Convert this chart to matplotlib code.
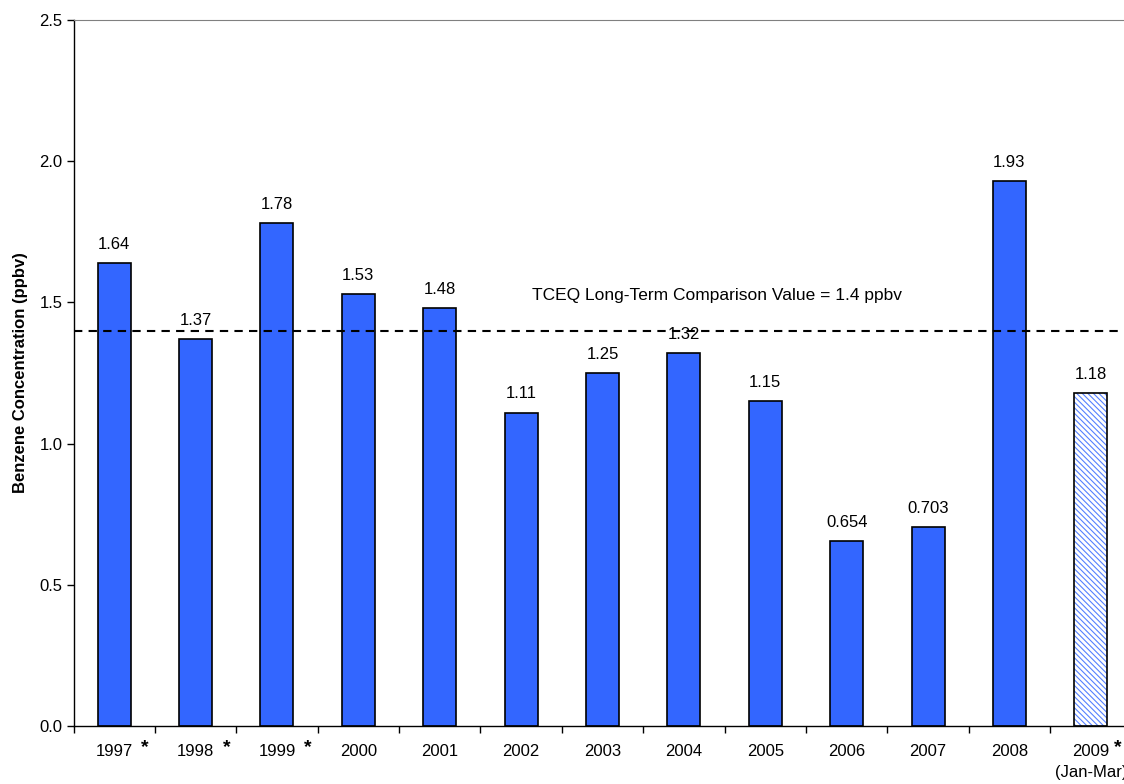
import matplotlib
matplotlib.use("Agg")
import matplotlib.pyplot as plt
from matplotlib.transforms import offset_copy

plt.rcParams['font.family'] = ['Liberation Sans', 'DejaVu Sans']
plt.rcParams['hatch.linewidth'] = 0.8

years = ["1997", "1998", "1999", "2000", "2001", "2002", "2003", "2004",
         "2005", "2006", "2007", "2008", "2009"]
values = [1.64, 1.37, 1.78, 1.53, 1.48, 1.11, 1.25, 1.32, 1.15, 0.654, 0.703, 1.93, 1.18]
labels = ["1.64", "1.37", "1.78", "1.53", "1.48", "1.11", "1.25", "1.32", "1.15",
          "0.654", "0.703", "1.93", "1.18"]
starred = [True, True, True, False, False, False, False, False, False, False, False, False, True]
partial = [False] * 12 + [True]
comparison_value = 1.4
comparison_text = "TCEQ Long-Term Comparison Value = 1.4 ppbv"

fig = plt.figure(figsize=(11.24, 7.84), dpi=100)
ax = fig.add_axes([73.5/1124, 1-726/784, 1058/1124, 706/784])

x = list(range(len(years)))
blue = "#3366FF"
for i, v in enumerate(values):
    if partial[i]:
        ax.bar(i, v, width=0.405, color="white", edgecolor="#5580FF", hatch="\\\\\\\\\\\\",
               linewidth=0, zorder=2)
        ax.bar(i, v, width=0.405, fill=False, edgecolor="black", linewidth=1.2, zorder=3)
    else:
        ax.bar(i, v, width=0.405, color=blue, edgecolor="black", linewidth=1.2, zorder=2)
    ax.annotate(labels[i], (i, v), xytext=(0, 8), textcoords="offset points",
                ha="center", va="bottom", fontsize=12)

ax.axhline(comparison_value, color="black", linestyle=(0, (4, 3)), linewidth=1.5, zorder=4)
ax.text(5.13, 1.526, comparison_text, ha="left", va="center", fontsize=12.5)

ax.set_xlim(-0.5, len(years) - 0.5)
ax.set_ylim(0, 2.5)
ax.set_yticks([0.0, 0.5, 1.0, 1.5, 2.0, 2.5])
ax.set_yticklabels(["0.0", "0.5", "1.0", "1.5", "2.0", "2.5"], fontsize=12)
ax.tick_params(axis="y", length=5, width=1, pad=3)

ax.set_xticks(x)
ax.set_xticklabels(years, fontsize=12)
ax.tick_params(axis="x", which="major", length=0, pad=13)
ax.set_xticks([i - 0.5 for i in range(len(years) + 1)], minor=True)
ax.tick_params(axis="x", which="minor", length=5, width=1)

trans = ax.get_xaxis_transform()
for i, s in enumerate(starred):
    if s:
        off = 27 if i == len(years) - 1 else 31
        t = offset_copy(trans, fig=fig, x=off, y=0, units="dots")
        ax.text(i, -0.018, "*", transform=t, ha="center", va="top", fontsize=14,
                fontweight="bold")
ax.text(12, -0.066, "(Jan-Mar)", transform=trans, ha="center", va="center", fontsize=12)

ax.set_ylabel("Benzene Concentration (ppbv)", fontsize=12, fontweight="bold", labelpad=8)

for s in ["left", "bottom"]:
    ax.spines[s].set_linewidth(1)
ax.spines["top"].set_color("#808080")
ax.spines["right"].set_visible(False)

fig.savefig("out.png", dpi=100)
